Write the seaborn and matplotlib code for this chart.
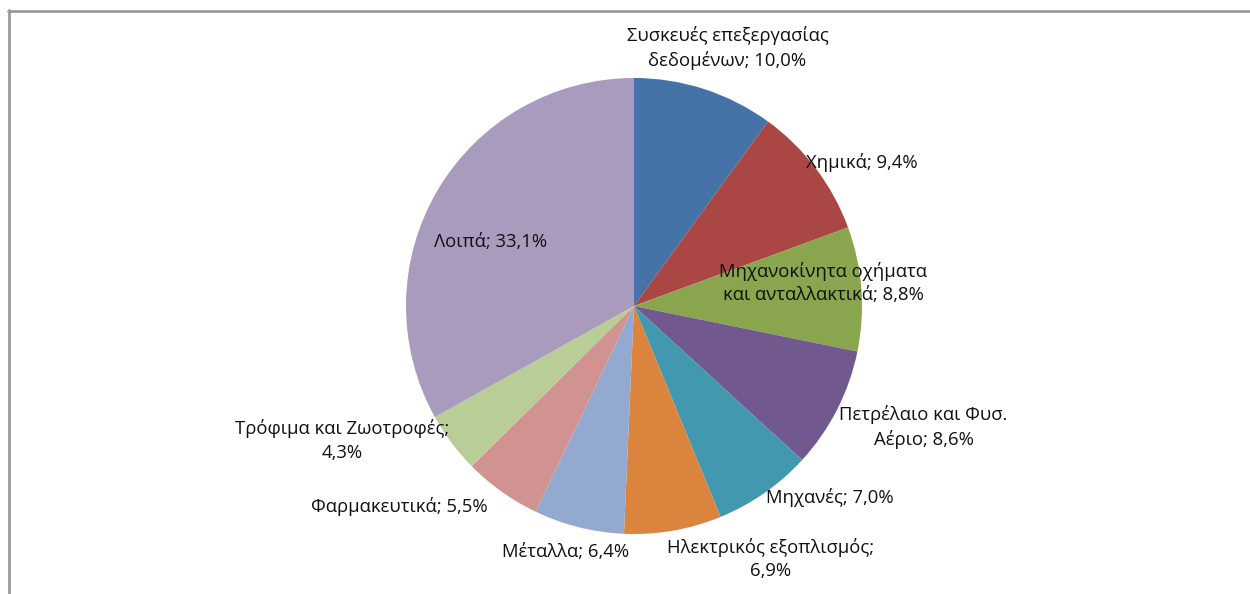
import matplotlib
matplotlib.use("Agg")
import matplotlib.pyplot as plt
import seaborn as sns
from matplotlib.lines import Line2D

sns.set_theme(style="white")
plt.rcParams['font.family'] = ['Open Sans', 'Noto Sans', 'DejaVu Sans']

categories = ["Συσκευές επεξεργασίας\nδεδομένων", "Χημικά", "Μηχανοκίνητα οχήματα\nκαι ανταλλακτικά",
              "Πετρέλαιο και Φυσ.\nΑέριο", "Μηχανές", "Ηλεκτρικός εξοπλισμός;\n", "Μέταλλα",
              "Φαρμακευτικά", "Τρόφιμα και Ζωοτροφές;\n", "Λοιπά"]
values = [10.0, 9.4, 8.8, 8.6, 7.0, 6.9, 6.4, 5.5, 4.3, 33.1]
colors = ["#4572A7", "#AA4643", "#89A54E", "#71588F", "#4198AF", "#DB843D",
          "#93A9CF", "#D19392", "#B9CD96", "#A99BBD"]

# label anchor positions in units of pie radius (layout)
label_pos = [(0.41, 1.13), (1.00, 0.63), (0.83, 0.10), (1.27, -0.53), (0.86, -0.84),
             (0.60, -1.11), (-0.30, -1.08), (-1.03, -0.88), (-1.28, -0.59), (-0.63, 0.28)]

def fmt(v):
    return f"{v:.1f}".replace(".", ",") + "%"

fig = plt.figure(figsize=(12.5, 5.94), dpi=100)
ax = fig.add_axes([0, 0, 1, 1])
R = 228.0
cx, cy = 634.0, 306.0
W, H = 1250.0, 594.0

wedges, _ = ax.pie(values, colors=colors, startangle=90, counterclock=False,
                   radius=1.0, center=(0, 0), wedgeprops=dict(linewidth=0))
ax.set_xlim(-cx / R, (W - cx) / R)
ax.set_ylim(-(H - cy) / R, cy / R)
ax.set_aspect('auto')
ax.axis('off')

for cat, v, (x, y) in zip(categories, values, label_pos):
    if cat.endswith(";\n"):
        txt = cat + fmt(v)
    else:
        txt = cat + "; " + fmt(v)
    ax.text(x, y, txt, ha='center', va='center', fontsize=13.3, color='#111111',
            linespacing=1.4)

# frame lines
fig.add_artist(Line2D([9 / W, 9 / W], [0, 1 - 10 / H], transform=fig.transFigure,
                      color='#9a9a9a', lw=2.0))
fig.add_artist(Line2D([8 / W, 1], [1 - 10.5 / H, 1 - 10.5 / H], transform=fig.transFigure,
                      color='#9a9a9a', lw=2.0))

fig.savefig("out.png", dpi=100)
